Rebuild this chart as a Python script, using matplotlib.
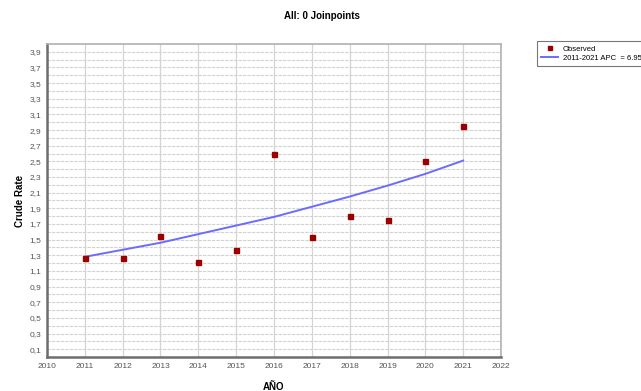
import numpy as np
import matplotlib
matplotlib.use("Agg")
import matplotlib.pyplot as plt

plt.rcParams['font.family'] = ['Liberation Sans', 'DejaVu Sans']

# data
years = [2011, 2012, 2013, 2014, 2015, 2016, 2017, 2018, 2019, 2020, 2021]
observed = [1.27, 1.27, 1.55, 1.22, 1.37, 2.60, 1.53, 1.80, 1.75, 2.50, 2.95]
fitted = [1.28, 1.37, 1.46, 1.57, 1.68, 1.79, 1.92, 2.05, 2.19, 2.34, 2.51]
apc_label = "2011-2021 APC  = 6.95*"

fig = plt.figure(figsize=(6.41, 3.91), dpi=100)
ax = fig.add_axes([0.0733, 0.087, 0.7083, 0.8005])

ax.plot(years, fitted, color='#6b6bff', linewidth=1.4, label=apc_label, zorder=3)
ax.plot(years, observed, linestyle='none', marker='s', markersize=3.6,
        color='#9a0000', label='Observed', zorder=4)

ax.set_xlim(2010, 2022)
ax.set_ylim(0, 4.0)
ax.set_xticks(range(2010, 2023))
yt = np.arange(0.1, 4.0, 0.2)
ax.set_yticks(yt)
ax.set_yticklabels([f"{v:.1f}".replace('.', ',') for v in yt])
ax.set_yticks(np.arange(0.0, 4.0, 0.1), minor=True)
ax.tick_params(axis='both', labelsize=6, colors='#555555', length=0, pad=4)
ax.tick_params(axis='y', which='minor', length=0)

ax.grid(axis='x', color='#d4d4d4', linewidth=0.9)
ax.grid(axis='y', which='both', color='#d2d2d2', linewidth=0.8, linestyle=(0, (3, 1)))
ax.set_axisbelow(True)

for s in ['left', 'bottom']:
    ax.spines[s].set_color('#6e6e6e')
    ax.spines[s].set_linewidth(1.8)
for s in ['top', 'right']:
    ax.spines[s].set_color('#b0b0b0')
    ax.spines[s].set_linewidth(1.2)

ax.set_ylabel('Crude Rate', fontsize=7, fontweight='bold', labelpad=3)
ax.set_xlabel('AÑO', fontsize=7, fontweight='bold', labelpad=9)
fig.text(0.503, 0.96, 'All: 0 Joinpoints', ha='center', va='center',
         fontsize=7, fontweight='bold')

handles, labels = ax.get_legend_handles_labels()
leg = fig.legend(handles[::-1], labels[::-1], loc='upper left',
                 bbox_to_anchor=(533 / 641, 1 - 37 / 391), fontsize=5.5,
                 frameon=True, fancybox=False, handlelength=2.2,
                 labelspacing=0.2, borderpad=0.6, handletextpad=0.6,
                 markerscale=0.7)
leg.get_frame().set_edgecolor('#555555')
leg.get_frame().set_linewidth(0.8)

fig.savefig('out.png', dpi=100)
